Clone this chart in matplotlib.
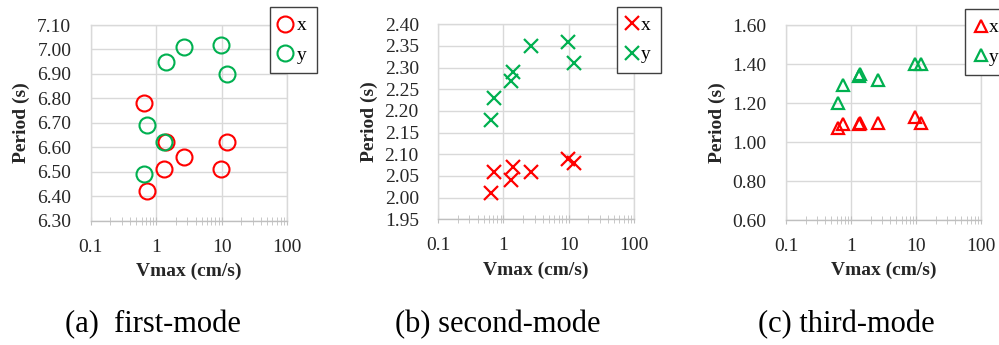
import numpy as np
from matplotlib import pyplot as plt
from matplotlib.ticker import LogLocator, FixedLocator, NullFormatter

plt.rcParams['font.family'] = ['Liberation Serif', 'DejaVu Serif']

# peak velocity (cm/s), same records for all three modes
vmax = [0.65, 0.72, 1.32, 1.39, 2.68, 9.8, 12.0]

first_x = [6.78, 6.42, 6.51, 6.62, 6.56, 6.51, 6.62]
first_y = [6.49, 6.69, 6.62, 6.95, 7.01, 7.02, 6.90]

second_x = [2.01, 2.06, 2.04, 2.07, 2.06, 2.09, 2.08]
second_y = [2.18, 2.23, 2.27, 2.29, 2.35, 2.36, 2.31]

third_vmax = [0.63, 0.74, 1.35, 1.38, 2.62, 9.7, 11.9]
third_x = [1.07, 1.09, 1.09, 1.10, 1.10, 1.13, 1.10]
third_y = [1.20, 1.29, 1.34, 1.35, 1.32, 1.40, 1.40]

ylims = [(6.30, 7.10), (1.95, 2.40), (0.60, 1.60)]
yticks = [np.arange(6.30, 7.101, 0.10), np.arange(1.95, 2.401, 0.05), np.arange(0.60, 1.601, 0.20)]
captions = ["(a)  first-mode", "(b) second-mode", "(c) third-mode"]

RED = '#FF0000'
GREEN = '#00B050'
GRID = '#D9D9D9'

fig = plt.figure(figsize=(9.99, 3.45), dpi=100)

# axes boxes in figure fraction [left, bottom, width, height]
boxes = [[0.0908, 0.3603, 0.1965, 0.5672],
         [0.4387, 0.3643, 0.1959, 0.5653],
         [0.7868, 0.3623, 0.1952, 0.5652]]
leg_anchor = [(0.913, 1.092), (0.913, 1.09), (0.918, 1.082)]
text_pad = [0.3, 0.15, 0.12]

data = [
    (vmax, first_x, first_y, 'o', 11.5, 1.5),
    (vmax, second_x, second_y, 'x', 9.5, 1.6),
    (third_vmax, third_x, third_y, '^', 9, 1.6),
]

for i, (vx, px, py, mk, ms, mew) in enumerate(data):
    ax = fig.add_axes(boxes[i])
    ax.set_xscale('log')
    ax.set_xlim(0.1, 100)
    ax.set_ylim(*ylims[i])
    ax.set_yticks(yticks[i])
    ax.set_yticklabels(["%.2f" % v for v in yticks[i]])

    ax.plot(vx, px, ls='none', marker=mk, ms=ms, mew=mew, mec=RED,
            mfc='none', label='x', clip_on=False, zorder=3)
    ax.plot(vx, py, ls='none', marker=mk, ms=ms, mew=mew, mec=GREEN,
            mfc='none', label='y', clip_on=False, zorder=3)

    ax.xaxis.set_major_locator(FixedLocator([0.1, 1, 10, 100]))
    ax.set_xticklabels(['0.1', '1', '10', '100'])
    ax.xaxis.set_minor_locator(LogLocator(base=10, subs=np.arange(2, 10)))
    ax.xaxis.set_minor_formatter(NullFormatter())

    ax.grid(True, which='major', color=GRID, lw=1)
    ax.set_axisbelow(True)
    for s in ['top', 'right', 'left']:
        ax.spines[s].set_color(GRID)
        ax.spines[s].set_linewidth(1)
    ax.spines['bottom'].set_color('#BFBFBF')
    ax.spines['bottom'].set_linewidth(1)

    ax.tick_params(axis='y', length=0, pad=14, labelsize=14, labelcolor='#262626')
    ax.tick_params(axis='x', which='both', direction='inout', length=6,
                   color='#BFBFBF', pad=10, labelsize=14, labelcolor='#262626')

    ax.set_xlabel('Vmax (cm/s)', fontsize=14, fontweight='bold', color='#262626')
    ax.set_ylabel('Period (s)', fontsize=14, fontweight='bold', color='#262626')
    ax.xaxis.set_label_coords(0.5, -0.215)
    ax.yaxis.set_label_coords(-0.31, 0.5)

    leg = ax.legend(loc='upper left', bbox_to_anchor=leg_anchor[i], fontsize=14,
                    frameon=True, fancybox=False, edgecolor='#404040',
                    framealpha=1, handlelength=0.6, handletextpad=text_pad[i],
                    labelspacing=0.6, borderpad=0.5, borderaxespad=0)
    leg.get_frame().set_linewidth(1)

    fig.text([0.153, 0.498, 0.847][i], 0.058, captions[i], fontsize=22,
             ha='center', va='center', color='#000000')

fig.savefig('out.png', dpi=100)
